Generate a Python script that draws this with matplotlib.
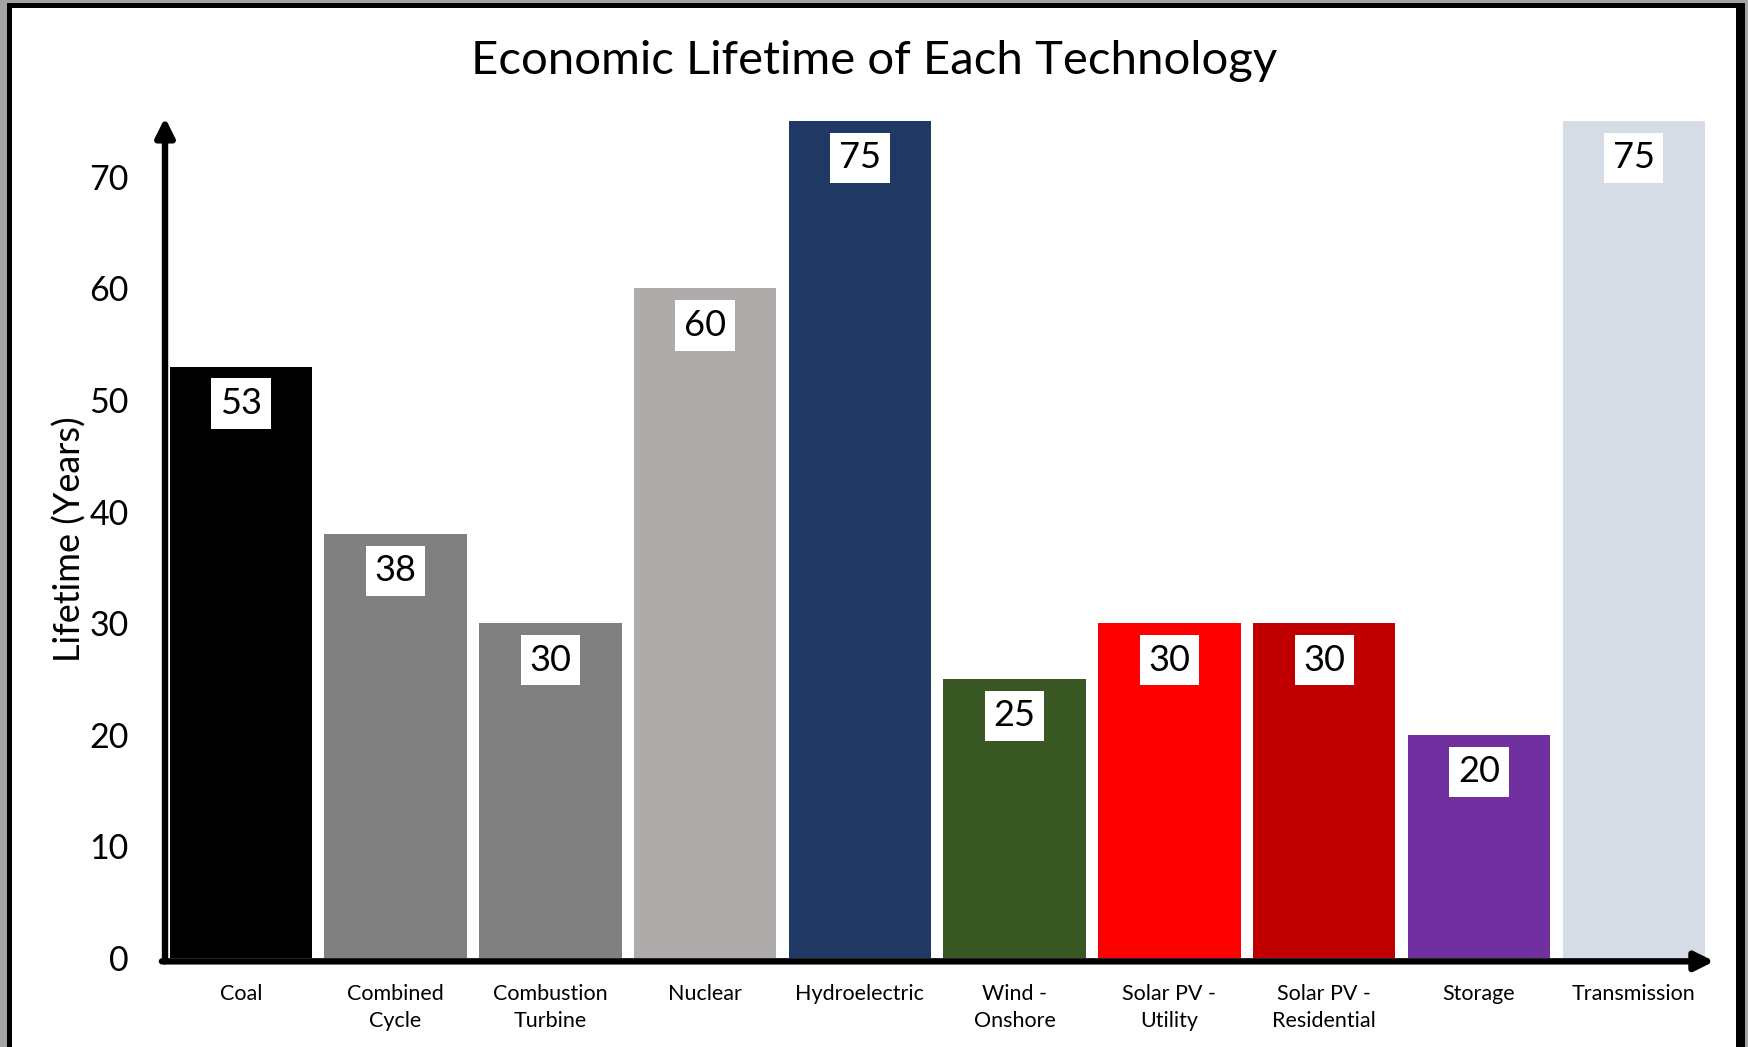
import matplotlib
matplotlib.use("Agg")
import matplotlib.pyplot as plt
from matplotlib.patches import Rectangle

# Economic lifetime (years) by technology
categories = ["Coal", "Combined\nCycle", "Combustion\nTurbine", "Nuclear", "Hydroelectric",
              "Wind -\nOnshore", "Solar PV -\nUtility", "Solar PV -\nResidential", "Storage",
              "Transmission"]
lifetimes = [53, 38, 30, 60, 75, 25, 30, 30, 20, 75]
bar_colors = ["#000000", "#808080", "#808080", "#AFABAB", "#203864",
              "#385723", "#FF0000", "#C00000", "#7030A0", "#D6DCE5"]
y_ticks = [0, 10, 20, 30, 40, 50, 60, 70]

plt.rcParams["font.family"] = ["Lato", "DejaVu Sans"]

W, H = 1748, 1047
fig = plt.figure(figsize=(W / 100, H / 100), dpi=100)
fig.patch.set_facecolor("#a3a3a3")

# Frame: black border with white interior
fig.patches.append(Rectangle((7, 0), 1745 - 7, H - 3, transform=None,
                             facecolor="black", edgecolor="none", zorder=-10))
fig.patches.append(Rectangle((12, 0), 1736 - 12, H - 8, transform=None,
                             facecolor="white", edgecolor="none", zorder=-9))

left_px, right_px, bottom_px, top_px = 165, 1708, 958, 121
ax = fig.add_axes([left_px / W, 1 - bottom_px / H,
                   (right_px - left_px) / W, (bottom_px - top_px) / H])
ax.set_facecolor("none")

x = list(range(len(categories)))
ax.bar(x, lifetimes, width=0.92, color=bar_colors, zorder=2)

ax.set_xlim(-0.49, 9.48)
ax.set_ylim(0, 75)

for xi, v in zip(x, lifetimes):
    ax.annotate(f"{v}", xy=(xi, v), xytext=(0, -37), textcoords="offset pixels",
                ha="center", va="center", fontsize=26, color="black", zorder=4,
                bbox=dict(boxstyle="square,pad=0.24", facecolor="white", edgecolor="none"))

for s in ax.spines.values():
    s.set_visible(False)

ax.set_yticks(y_ticks)
ax.set_yticklabels([str(t) for t in y_ticks], fontsize=24.5)
ax.tick_params(axis="y", length=0, pad=26)
ax.set_xticks(x)
ax.set_xticklabels(categories, fontsize=15.5, linespacing=1.4)
ax.tick_params(axis="x", length=0, pad=19)

ax.set_ylabel("Lifetime (Years)", fontsize=26)
ax.yaxis.set_label_coords(-0.0505, 0.5)

# Axis arrows
arrow_kw = dict(arrowstyle="-|>", lw=4.6, color="black", mutation_scale=28,
                shrinkA=0, shrinkB=0)
ax.annotate("", xy=(0, 1.004), xytext=(0, -0.004), xycoords="axes fraction",
            arrowprops=arrow_kw, zorder=5, annotation_clip=False)
ax.annotate("", xy=(1.004, -0.004), xytext=(-0.002, -0.004), xycoords="axes fraction",
            arrowprops=arrow_kw, zorder=5, annotation_clip=False)

fig.text(874 / W, 1 - 61 / H, "Economic Lifetime of Each Technology",
         ha="center", va="center", fontsize=34, color="black")

fig.savefig("out.png", dpi=100)
